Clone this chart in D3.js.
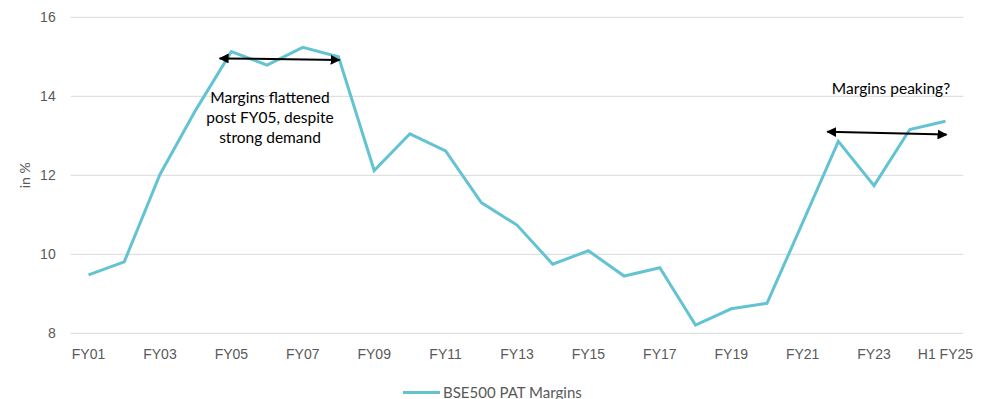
<!DOCTYPE html>
<html>
    <head>
        <meta charset="utf-8">
        <script src="https://d3js.org/d3.v7.min.js"></script>
        <style>
            body {
                margin: 0;
                background: #fff;
                font-family: Lato, 'Open Sans', sans-serif;
            }

            .axis text {
                fill: #595959;
                font-size: 14px;
            }
        </style>
    </head>
    <body>
        <svg></svg>
    </body>
    <script>
        // data
        var categories = ['FY01', 'FY02', 'FY03', 'FY04', 'FY05', 'FY06', 'FY07', 'FY08', 'FY09', 'FY10',
            'FY11', 'FY12', 'FY13', 'FY14', 'FY15', 'FY16', 'FY17', 'FY18', 'FY19', 'FY20',
            'FY21', 'FY22', 'FY23', 'FY24', 'H1 FY25'];
        var patMargins = [9.48, 9.81, 12.02, 13.65, 15.13, 14.79, 15.24, 15.0, 12.12, 13.05,
            12.62, 11.31, 10.74, 9.75, 10.09, 9.45, 9.66, 8.21, 8.62, 8.76,
            10.8, 12.86, 11.74, 13.16, 13.37];
        var yTicks = [8, 10, 12, 14, 16];
        var xTickLabels = ['FY01', 'FY03', 'FY05', 'FY07', 'FY09', 'FY11', 'FY13', 'FY15', 'FY17',
            'FY19', 'FY21', 'FY23', 'H1 FY25'];
        var seriesName = 'BSE500 PAT Margins';

        // size
        var width = 981,
            height = 399;

        var lineColor = '#64c3d3';

        var svg = d3.select('svg')
            .attr('width', width)
            .attr('height', height);

        // x
        var xScale = d3.scaleBand()
            .domain(categories)
            .range([70.7, 963.3]);
        var xPos = function (c) { return xScale(c) + xScale.bandwidth() / 2; };

        // y
        var yScale = d3.scaleLinear()
            .domain([8, 16])
            .range([333.3, 17.3]);

        // gridlines
        svg.append('g')
            .selectAll('line')
            .data(yTicks)
            .enter().append('line')
                .attr('x1', 70.7)
                .attr('x2', 963.3)
                .attr('y1', function (d) { return yScale(d); })
                .attr('y2', function (d) { return yScale(d); })
                .attr('stroke', '#d9d9d9')
                .attr('stroke-width', 1);

        // y axis
        var yAxis = svg.append('g')
            .attr('class', 'axis')
            .attr('transform', 'translate(70.7,0)')
            .call(d3.axisLeft(yScale).tickValues(yTicks).tickSize(0).tickPadding(15));
        yAxis.select('.domain').remove();

        svg.append('text')
            .attr('transform', 'translate(30,' + yScale(12) + ') rotate(-90)')
            .attr('text-anchor', 'middle')
            .style('font-size', '14px')
            .style('fill', '#595959')
            .text('in %');

        // x axis
        var xAxis = svg.append('g')
            .attr('class', 'axis')
            .attr('transform', 'translate(0,' + yScale(8) + ')')
            .call(d3.axisBottom(xScale).tickValues(xTickLabels).tickSize(0).tickPadding(16));
        xAxis.select('.domain').remove();

        // line
        var line = d3.line()
            .x(function (d, i) { return xPos(categories[i]); })
            .y(function (d) { return yScale(d); });

        svg.append('path')
            .datum(patMargins)
            .attr('d', line)
            .attr('fill', 'none')
            .attr('stroke', lineColor)
            .attr('stroke-width', 3)
            .attr('stroke-linejoin', 'miter');

        // arrows
        var defs = svg.append('defs');
        defs.append('marker')
            .attr('id', 'head')
            .attr('viewBox', '0 0 10 10')
            .attr('refX', 9)
            .attr('refY', 5)
            .attr('markerWidth', 5)
            .attr('markerHeight', 5)
            .attr('orient', 'auto-start-reverse')
            .append('path')
                .attr('d', 'M0,0 L10,5 L0,10 Z')
                .attr('fill', '#000');

        var step = xScale.bandwidth();
        var arrows = [
            {x1: xPos('FY05') - step * 0.33, y1: 14.96, x2: xPos('FY08') + step * 0.03, y2: 14.92},
            {x1: xPos('FY22') - step * 0.31, y1: 13.1, x2: xPos('H1 FY25') + step * 0.03, y2: 13.03}
        ];
        svg.selectAll('.arrow').data(arrows)
            .enter().append('line')
                .attr('class', 'arrow')
                .attr('x1', function (d) { return d.x1; })
                .attr('x2', function (d) { return d.x2; })
                .attr('y1', function (d) { return yScale(d.y1); })
                .attr('y2', function (d) { return yScale(d.y2); })
                .attr('stroke', '#000')
                .attr('stroke-width', 2)
                .attr('marker-start', 'url(#head)')
                .attr('marker-end', 'url(#head)');

        // annotations
        var note1 = svg.append('text')
            .attr('text-anchor', 'middle')
            .style('font-size', '15.5px')
            .style('fill', '#000');
        ['Margins flattened', 'post FY05, despite', 'strong demand'].forEach(function (t, i) {
            note1.append('tspan')
                .attr('x', 270)
                .attr('y', 103 + i * 20)
                .text(t);
        });

        svg.append('text')
            .attr('x', 891)
            .attr('y', 94)
            .attr('text-anchor', 'middle')
            .style('font-size', '15.5px')
            .style('fill', '#000')
            .text('Margins peaking?');

        // legend
        svg.append('line')
            .attr('x1', 403)
            .attr('x2', 440)
            .attr('y1', 392.5)
            .attr('y2', 392.5)
            .attr('stroke', lineColor)
            .attr('stroke-width', 3);

        svg.append('text')
            .attr('x', 443)
            .attr('y', 397.5)
            .style('font-size', '15px')
            .style('fill', '#595959')
            .text(seriesName);
    </script>
</html>
